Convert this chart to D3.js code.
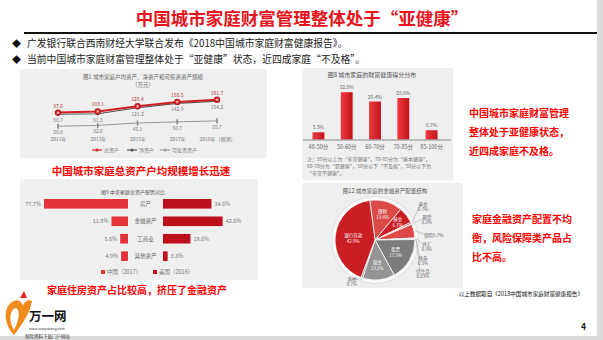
<!DOCTYPE html>
<html>
<head>
<meta charset="utf-8">
<script src="https://cdn.jsdelivr.net/npm/d3@7"></script>
<style>
  html, body { margin: 0; padding: 0; background: #fff; }
  svg { display: block; font-family: "Noto Sans CJK SC", "Noto Sans", sans-serif; }
</style>
</head>
<body>
<svg id="slide" width="603" height="340"></svg>
<script>
// ---- data ----
const bullet_lines = [
  "广发银行联合西南财经大学联合发布《2018中国城市家庭财富健康报告》。",
  "当前中国城市家庭财富管理整体处于“亚健康”状态，近四成家庭“不及格”。"
];

// fig 1: line chart
const years = ["2011年", "2013年", "2015年", "2017年", "2018年（预测）"];
const total_assets = [97.0, 103.1, 128.4, 150.5, 161.7];
const net_assets = [88.7, 91.3, 121.2, 142.9, 154.2];
const invest_assets = [28.8, 32.8, 45.1, 50.7, 55.7];

// fig 8: score distribution
const score_bins = ["40-50分", "50-60分", "60-70分", "70-85分", "85-100分"];
const score_share = [5.3, 32.8, 26.4, 28.8, 6.7];
const score_note = [
  "注：85分以上为“非常健康”，70-85分为“基本健康”，",
  "60-70分为“亚健康”，50分以下“不及格”，50分以下为",
  "“非常不健康”。"
];

// fig 9: China vs US asset allocation
const asset_types = ["房产", "金融资产", "工商业", "其他资产"];
const china_share = [77.7, 11.8, 5.6, 4.9];
const us_share = [34.6, 42.6, 19.6, 3.3];

// fig 12: financial asset structure (clockwise from top)
const fin_names = ["理财", "基金", "黄金", "期货", "保险", "外汇", "债券", "衍生品", "股票", "现金", "其他", "银行存款"];
const fin_share = [13.4, 6.7, 0.7, 0.2, 5.7, 0.3, 0.3, 0.03, 17.5, 13.2, 0.7, 42.9];

const svg = d3.select("#slide");
const red = "#ff0000";
const panel_fill = "#efefef";
const small_text = "#777";

// border strips
svg.append("rect").attr("x", 597).attr("y", 0).attr("width", 6).attr("height", 340).attr("fill", "#dcdcdc");
svg.append("rect").attr("x", 0).attr("y", 336).attr("width", 603).attr("height", 4).attr("fill", "#dcdcdc");

// ---- header ----
svg.append("text")
  .attr("x", 302).attr("y", 25)
  .attr("text-anchor", "middle")
  .attr("font-size", 17.5).attr("font-weight", "bold")
  .attr("fill", "#e8141c")
  .text("中国城市家庭财富管理整体处于“亚健康”");

svg.append("line")
  .attr("x1", 24).attr("x2", 597).attr("y1", 33).attr("y2", 33)
  .attr("stroke", "#111").attr("stroke-width", 2);

bullet_lines.forEach((t, i) => {
  const y = 47 + i * 16;
  svg.append("text").attr("x", 12).attr("y", y).attr("font-size", 9).attr("fill", "#111").text("◆");
  svg.append("text").attr("x", 27).attr("y", y).attr("font-size", 9.8).attr("fill", "#222").text(t);
});

// ---- fig 1: line chart ----
function drawLineChart() {
  const g = svg.append("g");
  g.append("rect").attr("x", 20).attr("y", 69).attr("width", 247).attr("height", 89).attr("rx", 3).attr("fill", panel_fill);
  g.append("text").attr("x", 143).attr("y", 79).attr("text-anchor", "middle").attr("font-size", 5.5).attr("fill", "#666")
    .text("图1  城市家庭户均资产、净资产和可投资资产规模");
  g.append("text").attr("x", 143).attr("y", 87).attr("text-anchor", "middle").attr("font-size", 5.5).attr("fill", "#666")
    .text("（万元）");

  const x = d3.scalePoint().domain(years).range([58, 217]);
  const y = d3.scaleLinear().domain([0, 160]).range([132, 100]);

  const series = [
    { vals: invest_assets, color: "#9a9a9a", width: 1, dy: 8 },
    { vals: net_assets, color: "#555", width: 1.2, dy: 8 },
    { vals: total_assets, color: "#d21e26", width: 2, dy: -5 }
  ];
  const line = d3.line().x((d, i) => x(years[i])).y((d) => y(d));

  series.forEach((s, k) => {
    g.append("path").datum(s.vals).attr("fill", "none").attr("stroke", s.color).attr("stroke-width", s.width).attr("d", line);
    s.vals.forEach((v, i) => {
      if (k === 2) {
        g.append("circle").attr("cx", x(years[i])).attr("cy", y(v)).attr("r", 3.2).attr("fill", "#c8161e");
        g.append("path").attr("d", d3.symbol(d3.symbolStar, 6)())
          .attr("transform", `translate(${x(years[i])},${y(v)})`).attr("fill", "#f3b0b0");
      } else if (k === 1) {
        g.append("circle").attr("cx", x(years[i])).attr("cy", y(v)).attr("r", 1.6).attr("fill", "#444");
      } else {
        g.append("rect").attr("x", x(years[i]) - 0.8).attr("y", y(v) - 2.5).attr("width", 1.6).attr("height", 5).attr("fill", "#888");
      }
      g.append("text").attr("x", x(years[i])).attr("y", y(v) + s.dy).attr("text-anchor", "middle")
        .attr("font-size", 5).attr("fill", k === 2 ? "#a33" : small_text).text(v.toFixed(1));
    });
  });

  const ax = g.append("g").attr("transform", "translate(0,135)")
    .call(d3.axisBottom(x).tickSize(0).tickPadding(2));
  ax.select(".domain").remove();
  ax.selectAll("text").attr("font-size", 5).attr("fill", small_text).attr("font-family", "Noto Sans CJK SC");

  const legend = [["总资产", "#d21e26", 92], ["净资产", "#555", 127], ["可投资资产", "#9a9a9a", 160]];
  legend.forEach(([name, color, lx]) => {
    g.append("line").attr("x1", lx).attr("x2", lx + 10).attr("y1", 150).attr("y2", 150).attr("stroke", color).attr("stroke-width", 1.2);
    g.append("circle").attr("cx", lx + 5).attr("cy", 150).attr("r", 1.5).attr("fill", color);
    g.append("text").attr("x", lx + 12).attr("y", 152).attr("font-size", 5).attr("fill", small_text).text(name);
  });

  svg.append("text").attr("x", 141).attr("y", 175).attr("text-anchor", "middle")
    .attr("font-size", 10.5).attr("font-weight", "bold").attr("fill", red)
    .text("中国城市家庭总资产户均规模增长迅速");
}

// ---- fig 8: bar chart ----
function drawScoreChart() {
  const g = svg.append("g");
  g.append("rect").attr("x", 302).attr("y", 68).attr("width", 151).attr("height", 112).attr("rx", 3).attr("fill", panel_fill);
  g.append("text").attr("x", 372).attr("y", 77).attr("text-anchor", "middle").attr("font-size", 6).attr("fill", "#555")
    .text("图8  城市家庭的财富健康得分分布");

  const defs = svg.append("defs");
  const grad = defs.append("linearGradient").attr("id", "barGrad");
  grad.append("stop").attr("offset", "0%").attr("stop-color", "#ee3a3f");
  grad.append("stop").attr("offset", "100%").attr("stop-color", "#c3141b");

  const x = d3.scaleBand().domain(score_bins).range([304, 446]).paddingInner(0.58).paddingOuter(0.3);
  const y = d3.scaleLinear().domain([0, 35]).range([140, 89]);

  g.selectAll(".bar").data(score_share).join("rect")
    .attr("x", (d, i) => x(score_bins[i])).attr("width", x.bandwidth())
    .attr("y", (d) => y(d)).attr("height", (d) => y(0) - y(d))
    .attr("fill", "url(#barGrad)");
  g.selectAll(".lbl").data(score_share).join("text")
    .attr("x", (d, i) => x(score_bins[i]) + x.bandwidth() / 2).attr("y", (d) => y(d) - 3)
    .attr("text-anchor", "middle").attr("font-size", 5).attr("fill", "#666")
    .text((d) => d.toFixed(1) + "%");

  const ax = g.append("g").attr("transform", "translate(0,140)").call(d3.axisBottom(x).tickSize(0).tickPadding(5));
  ax.select(".domain").attr("stroke", "#aaa").attr("stroke-width", 1.5).attr("d", "M303,0H451");
  ax.selectAll("text").attr("font-size", 5.5).attr("fill", "#666").attr("font-family", "Noto Sans CJK SC");

  score_note.forEach((t, i) => {
    g.append("text").attr("x", 307).attr("y", 161 + i * 6.8).attr("font-size", 5).attr("fill", "#777").text(t);
  });

  ["中国城市家庭财富管理", "整体处于亚健康状态，", "近四成家庭不及格。"].forEach((t, i) => {
    svg.append("text").attr("x", 469).attr("y", 117 + i * 19).attr("font-size", 10).attr("font-weight", "bold")
      .attr("fill", red).text(t);
  });
}

// ---- fig 9: China vs US ----
function drawCompareChart() {
  const g = svg.append("g");
  g.append("rect").attr("x", 20).attr("y", 179).attr("width", 238).attr("height", 101).attr("rx", 3).attr("fill", panel_fill);
  g.append("text").attr("x", 133).attr("y", 194).attr("text-anchor", "middle").attr("font-size", 5).attr("fill", "#555")
    .text("图9  中美家庭总资产配置对比");

  const y = d3.scaleBand().domain(asset_types).range([199, 261]).paddingInner(0.45);
  const w = d3.scaleLinear().domain([0, 60]).range([0, 84]).clamp(true);
  const mid_left = 128, mid_right = 163;

  asset_types.forEach((name, i) => {
    const yy = y(name), h = y.bandwidth();
    const cw = w(china_share[i]), uw = w(us_share[i]);
    g.append("rect").attr("x", mid_left - cw).attr("y", yy).attr("width", cw).attr("height", h).attr("fill", "#e3343b");
    g.append("rect").attr("x", mid_right).attr("y", yy).attr("width", uw).attr("height", h).attr("fill", "#be0f1c");
    g.append("text").attr("x", mid_left - cw - 3).attr("y", yy + h / 2 + 2).attr("text-anchor", "end")
      .attr("font-size", 5.5).attr("fill", "#777").text(china_share[i].toFixed(1) + "%");
    g.append("text").attr("x", mid_right + uw + 3).attr("y", yy + h / 2 + 2)
      .attr("font-size", 5.5).attr("fill", "#777").text(us_share[i].toFixed(1) + "%");
    g.append("text").attr("x", 145.5).attr("y", yy + h / 2 + 2).attr("text-anchor", "middle")
      .attr("font-size", 5.5).attr("fill", "#666").text(name);
  });

  [["中国（2017）", "#e3343b", 101], ["美国（2016）", "#be0f1c", 153]].forEach(([t, c, lx]) => {
    g.append("rect").attr("x", lx).attr("y", 270).attr("width", 4).attr("height", 4).attr("fill", c);
    g.append("text").attr("x", lx + 6).attr("y", 274).attr("font-size", 5.5).attr("fill", "#777").text(t);
  });

  svg.append("text").attr("x", 137).attr("y", 294).attr("text-anchor", "middle")
    .attr("font-size", 10).attr("font-weight", "bold").attr("fill", red)
    .text("家庭住房资产占比较高，挤压了金融资产");
}

// ---- fig 12: pie ----
function drawPie() {
  const g = svg.append("g");
  g.append("rect").attr("x", 302).attr("y", 183).attr("width", 161).attr("height", 105).attr("rx", 3).attr("fill", panel_fill);
  g.append("text").attr("x", 385).attr("y", 193).attr("text-anchor", "middle").attr("font-size", 5.5).attr("fill", "#555")
    .text("图12  城市家庭的金融资产配置结构");

  const cx = 375, cy = 240, r = 40;
  const defs = svg.append("defs");
  const mkGrad = (id, c0, c1) => {
    const rg = defs.append("radialGradient").attr("id", id).attr("gradientUnits", "userSpaceOnUse")
      .attr("cx", cx).attr("cy", cy).attr("r", r);
    rg.append("stop").attr("offset", "0%").attr("stop-color", c0);
    rg.append("stop").attr("offset", "100%").attr("stop-color", c1);
  };
  mkGrad("pieRed", "#f29a92", "#c81e24");
  mkGrad("pieRed2", "#f6b0a8", "#dc4a48");
  mkGrad("pieGray", "#c4c4c4", "#7c7c7c");
  mkGrad("pieGray2", "#d0d0d0", "#949494");

  const fills = {
    "银行存款": "url(#pieRed)", "理财": "url(#pieRed2)", "基金": "url(#pieRed)",
    "股票": "url(#pieGray)", "现金": "url(#pieGray2)", "其他": "url(#pieGray)"
  };

  g.append("circle").attr("cx", cx).attr("cy", cy).attr("r", r + 3.5).attr("fill", "#fafafa").attr("stroke", "#ddd").attr("stroke-width", 1);

  const start = -7.5 * Math.PI / 180;
  const pie = d3.pie().sort(null).value((d) => d).startAngle(start).endAngle(start + 2 * Math.PI);
  const arcs = pie(fin_share);
  const arc = d3.arc().innerRadius(0).outerRadius(r);

  g.append("g").attr("transform", `translate(${cx},${cy})`)
    .selectAll("path").data(arcs).join("path")
    .attr("d", arc)
    .attr("fill", (d, i) => fills[fin_names[i]] || "url(#pieRed2)")
    .attr("stroke", "#fff").attr("stroke-width", 0.8);

  // inside labels
  const inside = { "银行存款": 0.55, "理财": 0.68, "基金": 0.72, "股票": 0.6, "现金": 0.62 };
  arcs.forEach((a, i) => {
    const name = fin_names[i];
    const pct = (fin_share[i] < 0.1 ? fin_share[i].toFixed(2) : fin_share[i].toFixed(1)) + "%";
    const mid = (a.startAngle + a.endAngle) / 2;
    if (inside[name]) {
      const rr = r * inside[name];
      const px = cx + rr * Math.sin(mid), py = cy - rr * Math.cos(mid);
      g.append("text").attr("x", px).attr("y", py - 1).attr("text-anchor", "middle").attr("font-size", 4.5).attr("fill", "#fff").text(name);
      g.append("text").attr("x", px).attr("y", py + 5).attr("text-anchor", "middle").attr("font-size", 4.5).attr("fill", "#fff").text(pct);
    }
  });

  // outside labels with leader lines
  const outside = [["黄金", 423, 208], ["期货", 427, 221], ["保险", 427, 237], ["外汇", 427, 248], ["债券", 423, 262], ["衍生品", 423, 275], ["其他", 352, 283]];
  outside.forEach(([name, lx, ly]) => {
    const i = fin_names.indexOf(name);
    const a = arcs[i];
    const mid = (a.startAngle + a.endAngle) / 2;
    const ex = cx + (r + 1) * Math.sin(mid), ey = cy - (r + 1) * Math.cos(mid);
    const pct = (fin_share[i] < 0.1 ? fin_share[i].toFixed(2) : fin_share[i].toFixed(1)) + "%";
    g.append("polyline").attr("points", `${ex},${ey} ${lx - 3},${ly - 3}`).attr("fill", "none").attr("stroke", "#888").attr("stroke-width", 0.4);
    if (name === "保险") {
      g.append("text").attr("x", lx - 3).attr("y", ly).attr("font-size", 4.5).attr("fill", "#666").text(name + pct);
    } else {
      g.append("text").attr("x", lx).attr("y", ly - 2).attr("text-anchor", "middle").attr("font-size", 4.5).attr("fill", "#666").text(name);
      g.append("text").attr("x", lx).attr("y", ly + 3).attr("text-anchor", "middle").attr("font-size", 4.5).attr("fill", "#666").text(pct);
    }
  });

  ["家庭金融资产配置不均", "衡，风险保障类产品占", "比不高。"].forEach((t, i) => {
    svg.append("text").attr("x", 472).attr("y", 223 + i * 19).attr("font-size", 10).attr("font-weight", "bold")
      .attr("fill", red).text(t);
  });

  svg.append("text").attr("x", 583).attr("y", 296).attr("text-anchor", "end").attr("font-size", 5.6).attr("fill", "#111")
    .text("以上数据取自《2018中国城市家庭财富健康报告》");
  svg.append("text").attr("x", 586).attr("y", 330).attr("text-anchor", "end").attr("font-size", 8.5).attr("font-weight", "bold")
    .attr("fill", "#111").text("4");
}

// ---- logo ----
function drawLogo() {
  const g = svg.append("g");
  g.append("path").attr("d", "M14,335 C2,322 4,305 14,301 C18,299 22,302 23,306 C24,302 28,299 32,301 C30,312 24,322 14,335 Z")
    .attr("fill", "#f08a1c");
  g.append("path").attr("d", "M14,330 C8,320 10,309 16,308 C20,310 20,318 14,330 Z").attr("fill", "#fff");
  g.append("path").attr("d", "M20,298 L24,291 L27,298 Z").attr("fill", "#e2231a");
  g.append("text").attr("x", 29).attr("y", 321).attr("font-size", 12.5).attr("font-weight", "bold").attr("fill", "#111").text("万一网");
  g.append("text").attr("x", 29).attr("y", 330).attr("font-size", 3.5).attr("fill", "#333").text("www.wanyiwang.com");
  g.append("text").attr("x", 25).attr("y", 338).attr("font-size", 4.5).attr("fill", "#333").text("保险资料下载门户网站");
}

drawLineChart();
drawScoreChart();
drawCompareChart();
drawPie();
drawLogo();
</script>
</body>
</html>
